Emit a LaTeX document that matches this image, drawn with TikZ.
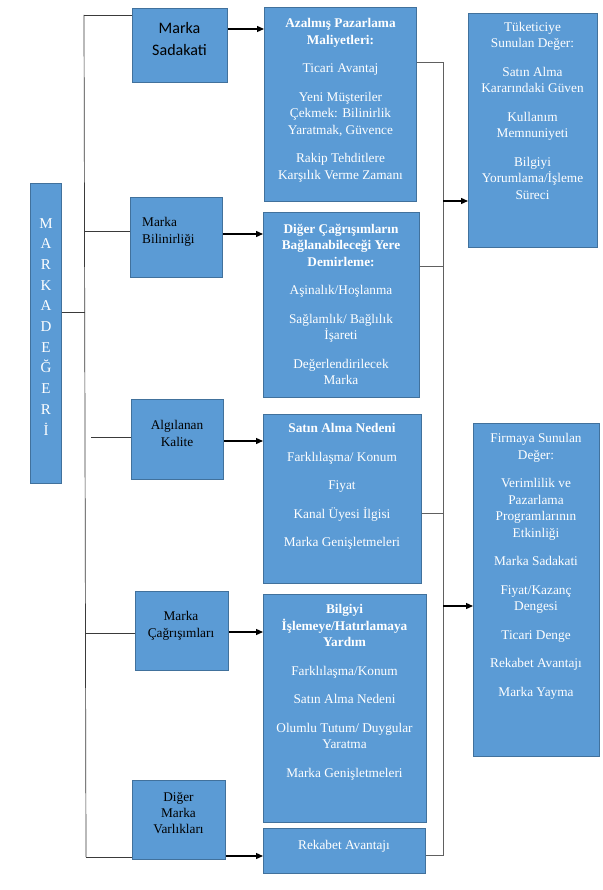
\documentclass[tikz,border=0pt]{standalone}
\usepackage{fontspec}
\setmainfont{Liberation Serif}
\newfontfamily\calibfont{Carlito}
\usetikzlibrary{arrows.meta}
\definecolor{boxfill}{HTML}{5B9BD5}
\definecolor{boxline}{HTML}{41719C}
\definecolor{connA}{HTML}{3A3A3A}
\definecolor{connB}{HTML}{606060}
\begin{document}
\begin{tikzpicture}[x=1pt,y=-1pt,
  box/.style={draw=boxline, fill=boxfill, line width=0.8pt, inner sep=0pt, anchor=north west},
  wtxt/.style={text=white, align=center, inner sep=0pt, anchor=north, font=\fontsize{13.3}{16.5}\selectfont},
  btxt/.style={text=black, align=center, inner sep=0pt, anchor=north, font=\fontsize{13.3}{16.5}\selectfont},
  arr/.style={-{Triangle[length=7pt,width=6pt]}, line width=1.3pt, black},
  linkA/.style={draw=connA, line width=0.7pt},
  linkB/.style={draw=connB, line width=0.7pt}]
\path[fill=white] (0,0) rectangle (602,890);
\useasboundingbox (0,0) rectangle (602,890);

% left column
\node[box, minimum width=31pt, minimum height=300pt] (md) at (30,183) {};
\node[text=white, align=center, inner sep=0pt, anchor=north, font=\fontsize{15}{20.7}\selectfont] (mdt) at (46,218) {M\\A\\R\\K\\A\\D\\E\\Ğ\\E\\R\\İ};

\node[box, minimum width=95pt, minimum height=74pt] (ms) at (132,8) {};
\node[text=black, align=center, inner sep=0pt, anchor=north, font=\calibfont\fontsize{16}{22}\selectfont] (mst) at (179.5,22) {Marka\\Sadakati};

\node[box, minimum width=92pt, minimum height=80pt] (mb) at (130,197) {};
\node[btxt, align=left, anchor=north west] (mbt) at (142,217.5) {Marka\\Bilinirliği};

\node[box, minimum width=92pt, minimum height=80pt] (ak) at (131,399) {};
\node[btxt] (akt) at (177,420.5) {Algılanan\\Kalite};

\node[box, minimum width=93pt, minimum height=79pt] (mc) at (135,591) {};
\node[btxt] (mct) at (181,611.5) {Marka\\Çağrışımları};

\node[box, minimum width=93pt, minimum height=79pt] (dm) at (132,780) {};
\node[btxt, font=\fontsize{13.3}{16}\selectfont] (dmt) at (178.5,792.5) {Diğer\\Marka\\Varlıkları};

% middle column
\node[box, minimum width=152pt, minimum height=194pt] (b1) at (264,7) {};
\node[wtxt] (b1t) at (340.5,18.5) {\textbf{Azalmış Pazarlama}\\\textbf{Maliyetleri:}\\[12pt]Ticari Avantaj\\[12pt]Yeni Müşteriler\\Çekmek: Bilinirlik\\Yaratmak, Güvence\\[12pt]Rakip Tehditlere\\Karşılık Verme Zamanı};

\node[box, minimum width=156pt, minimum height=185pt] (b2) at (263,212) {};
\node[wtxt] (b2t) at (341,223.5) {\textbf{Diğer Çağrışımların}\\\textbf{Bağlanabileceği Yere}\\\textbf{Demirleme:}\\[12pt]Aşinalık/Hoşlanma\\[12pt]Sağlamlık/ Bağlılık\\İşareti\\[12pt]Değerlendirilecek\\Marka};

\node[box, minimum width=158pt, minimum height=169pt] (b3) at (263,414) {};
\node[wtxt] (b3t) at (342,423.5) {\textbf{Satın Alma Nedeni}\\[12pt]Farklılaşma/ Konum\\[12pt]Fiyat\\[12pt]Kanal Üyesi İlgisi\\[12pt]Marka Genişletmeleri};

\node[box, minimum width=163pt, minimum height=228pt] (b4) at (263,594) {};
\node[wtxt] (b4t) at (344.5,604.5) {\textbf{Bilgiyi}\\\textbf{İşlemeye/Hatırlamaya}\\\textbf{Yardım}\\[12pt]Farklılaşma/Konum\\[12pt]Satın Alma Nedeni\\[12pt]Olumlu Tutum/ Duygular\\Yaratma\\[12pt]Marka Genişletmeleri};

\node[box, minimum width=162pt, minimum height=45pt] (b5) at (263,828) {};
\node[wtxt] (b5t) at (344,840.5) {Rekabet Avantajı};

% right column
\node[box, minimum width=129pt, minimum height=234pt] (tc) at (468,13) {};
\node[wtxt] (tct) at (532.5,22) {Tüketiciye\\Sunulan Değer:\\[12pt]Satın Alma\\Kararındaki Güven\\[12pt]Kullanım\\Memnuniyeti\\[12pt]Bilgiyi\\Yorumlama/İşleme\\Süreci};

\node[box, minimum width=126pt, minimum height=333pt] (fs) at (473,423) {};
\node[wtxt] (fst) at (536,433.5) {Firmaya Sunulan\\Değer:\\[12pt]Verimlilik ve\\Pazarlama\\Programlarının\\Etkinliği\\[12pt]Marka Sadakati\\[12pt]Fiyat/Kazanç\\Dengesi\\[12pt]Ticari Denge\\[12pt]Rekabet Avantajı\\[12pt]Marka Yayma};

% left spine
\coordinate (lt) at (84,15);
\coordinate (lb) at (86,857);
\coordinate (s1) at (85,231);
\coordinate (s2) at (85,312);
\coordinate (s3) at (91,437);
\coordinate (s4) at (85.5,633);
\draw[linkA] (lt) -- (lb);
\draw[linkA] (lt) -- (ms.west |- lt);
\draw[linkA] (s1) -- (mb.west |- s1);
\draw[linkA] (md.east |- s2) -- (s2);
\draw[linkA] (s3) -- (ak.west |- s3);
\draw[linkA] (s4) -- (mc.west |- s4);
\draw[linkA] (lb) -- (dm.west |- lb);

% arrows left -> middle
\coordinate (a1) at (0,29);
\coordinate (a2) at (0,234);
\coordinate (a3) at (0,441);
\coordinate (a4) at (0,632);
\coordinate (a5) at (0,856);
\draw[arr] (ms.east |- a1) -- (b1.west |- a1);
\draw[arr] (mb.east |- a2) -- (b2.west |- a2);
\draw[arr] (ak.east |- a3) -- (b3.west |- a3);
\draw[arr] (mc.east |- a4) -- (b4.west |- a4);
\draw[arr] (dm.east |- a5) -- (b5.west |- a5);

% right bracket
\coordinate (r0) at (443,62);
\coordinate (r1) at (443,266);
\coordinate (r2) at (443,201);
\coordinate (r3) at (443,513);
\coordinate (r4) at (443,606);
\coordinate (r5) at (443,855);
\draw[linkB] (b1.east |- r0) -- (r0) -- (r5) -- (b5.east |- r5);
\draw[linkB] (b2.east |- r1) -- (r1);
\draw[linkB] (b3.east |- r3) -- (r3);
\draw[arr] (r2) -- (tc.west |- r2);
\draw[arr] (r4) -- (fs.west |- r4);
\end{tikzpicture}
\end{document}
